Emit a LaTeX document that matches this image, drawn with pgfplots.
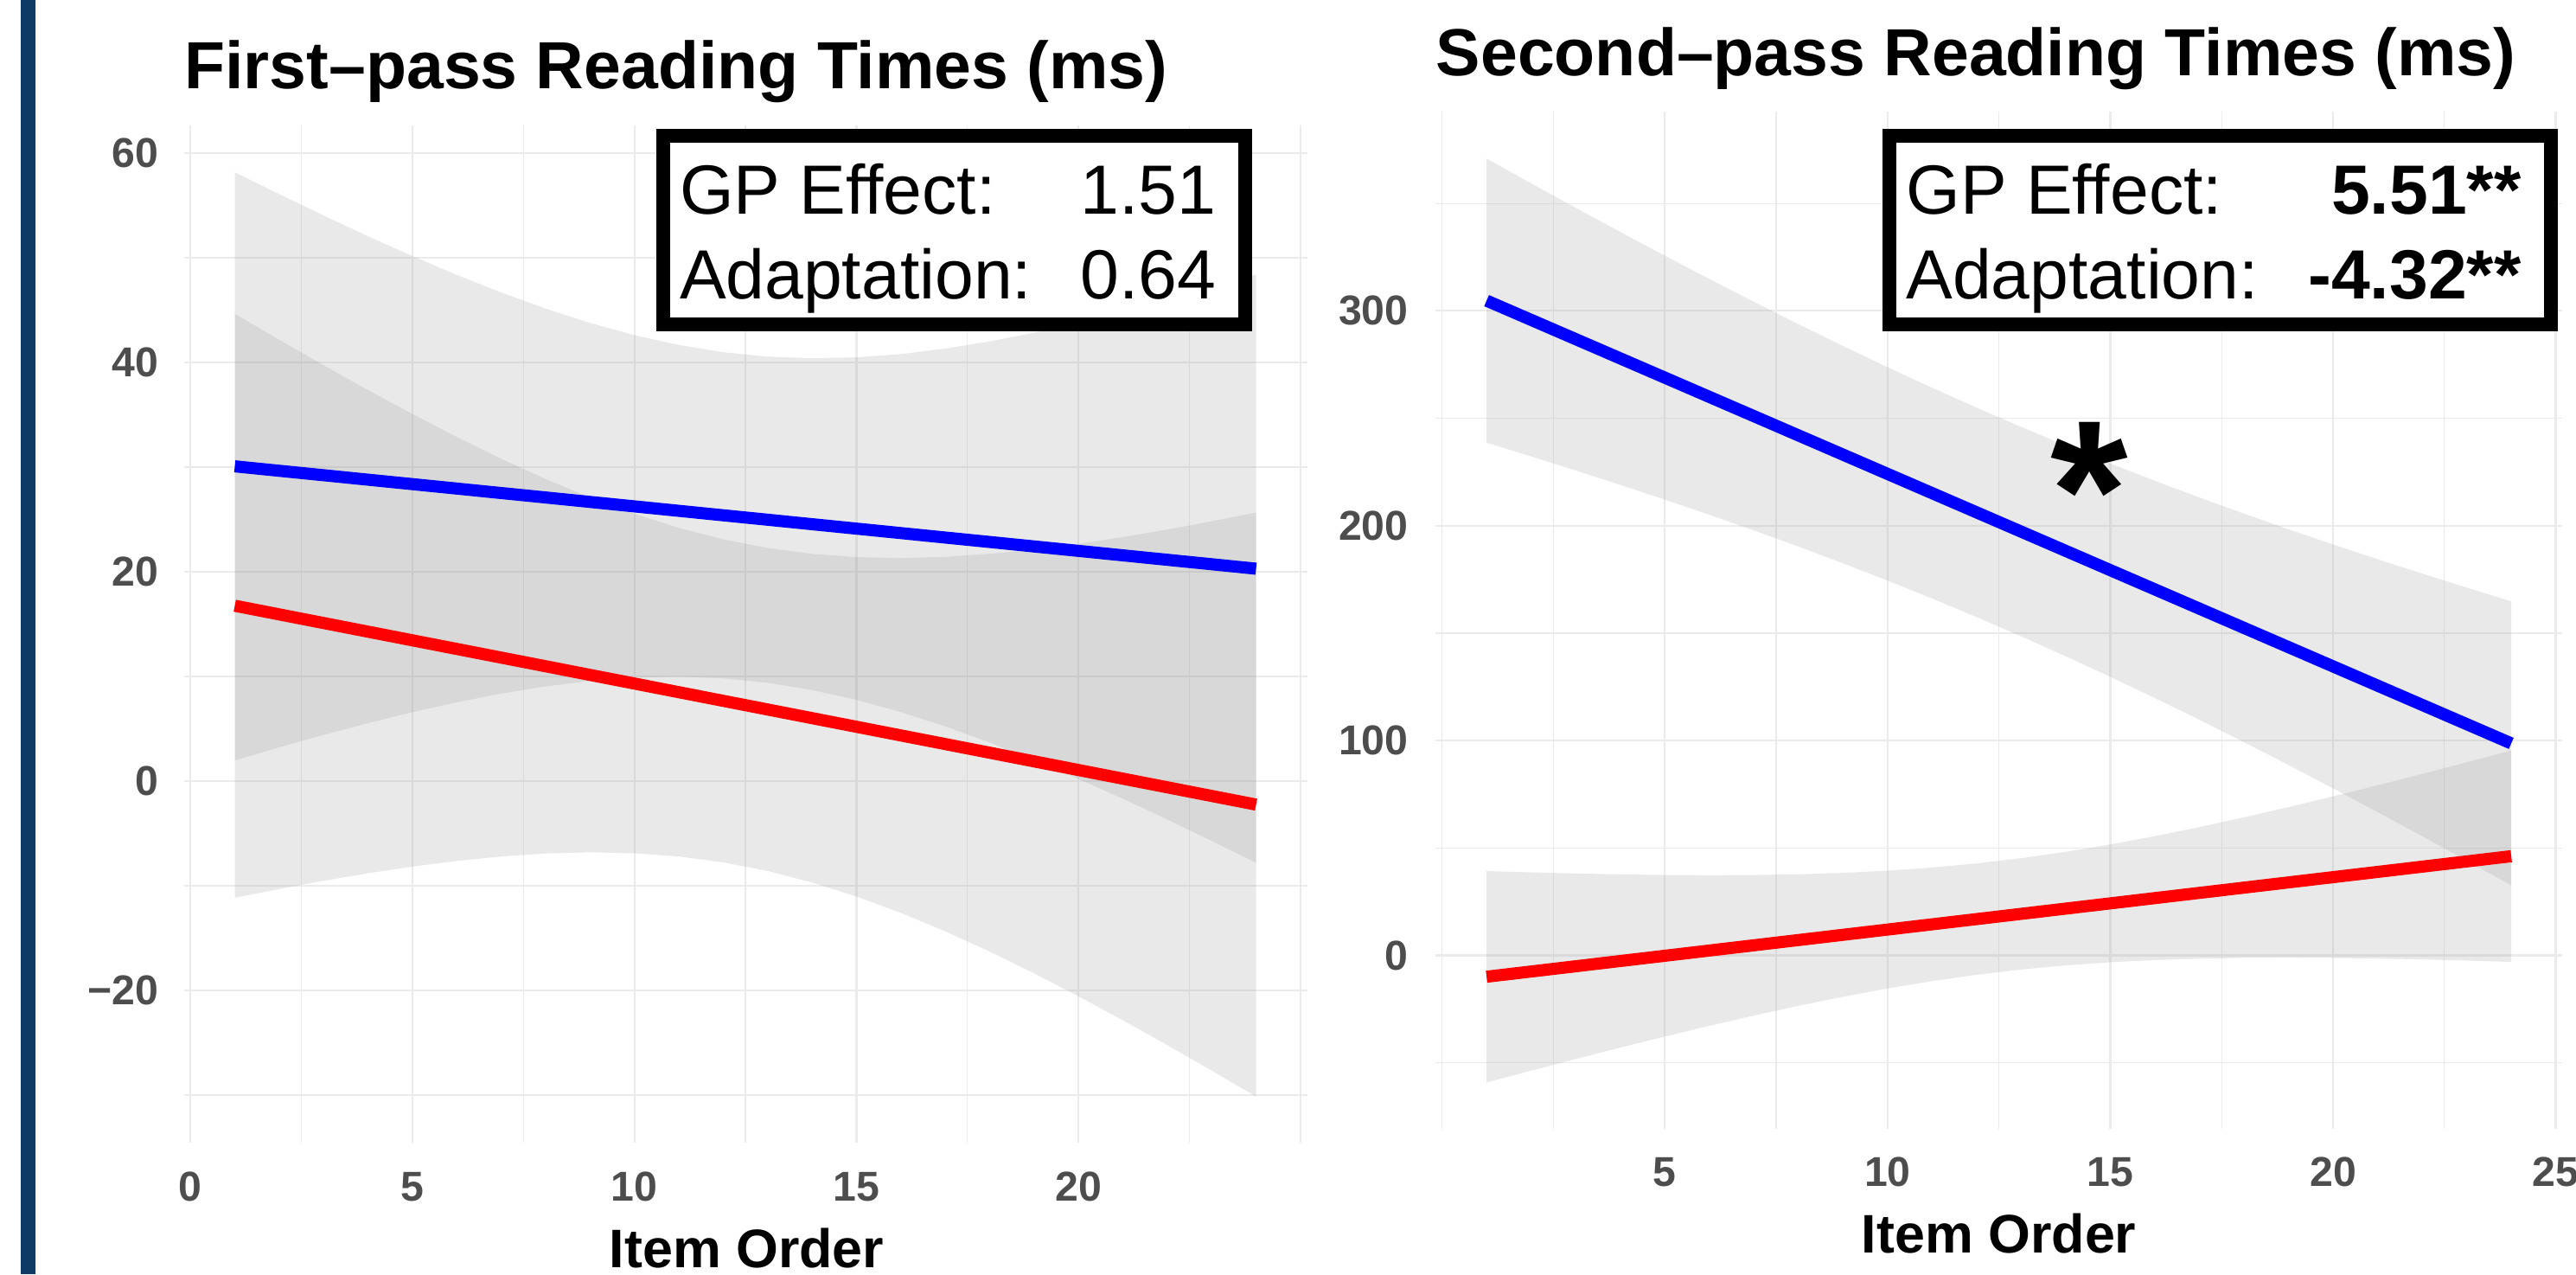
\documentclass[border=0pt]{standalone}
\usepackage{fontspec}
\setmainfont{Liberation Sans}
\usepackage{pgfplots}
\pgfplotsset{compat=1.18}
\definecolor{gridc}{RGB}{235,235,235}
\definecolor{tickc}{RGB}{77,77,77}
\definecolor{ribbon}{RGB}{140,140,140}
\definecolor{navy}{RGB}{13,59,102}
\definecolor{lblue}{RGB}{0,0,255}
\definecolor{lred}{RGB}{255,0,0}
\pgfplotsset{
  ggstyle/.style={
    scale only axis,
    anchor=south west,
    axis line style={draw=none},
    major tick length=0pt, minor tick length=0pt,
    grid=both,
    major grid style={gridc, line width=0.45pt},
    minor grid style={gridc, line width=0.25pt},
    ticklabel style={font=\fontsize{9.64}{11}\selectfont\bfseries, text=tickc, inner sep=0pt},
    xmin=-0.15, xmax=25.15,
  },
  rib/.style={fill=ribbon, fill opacity=0.19, draw=none},
}
\newcommand{\legfont}{\fontsize{16.1}{19}\selectfont}
\begin{document}
\begin{tikzpicture}
\fill[navy] (4.8pt,0) rectangle (8.2pt,294.6pt);

% ---------- left panel: First-pass ----------
\begin{axis}[ggstyle, at={(42.5pt,30.5pt)}, width=259.82pt, height=235.1pt,
  ymin=-34.5, ymax=62.65,
  xtick={0,5,10,15,20}, xticklabels={0,5,10,15,20},
  minor xtick={2.5,7.5,12.5,17.5,22.5,25},
  ytick={-20,0,20,40,60}, yticklabels={−20,0,20,40,60},
  minor ytick={-30,-10,10,30,50},
  xticklabel style={yshift=-6.7pt}, yticklabel style={xshift=-5.7pt}]
% blue ribbon: upper bound, then lower bound reversed
\addplot[rib] coordinates {
  (1,58.18) (2,56.09) (3,54.04) (4,52.06) (5,50.17) (6,48.37) (7,46.69) (8,45.15) (9,43.78) (10,42.61) (11,41.68) (12,40.98)
  (13,40.56) (14,40.40) (15,40.49) (16,40.80) (17,41.33) (18,42.01) (19,42.85) (20,43.79) (21,44.84) (22,45.96) (23,47.16) (24,48.40)
  (24,-7.80) (23,-5.71) (22,-3.66) (21,-1.68) (20,0.21) (19,2.01) (18,3.69) (17,5.23) (16,6.60) (15,7.77) (14,8.70) (13,9.40)
  (12,9.82) (11,9.98) (10,9.89) (9,9.58) (8,9.05) (7,8.37) (6,7.53) (5,6.59) (4,5.54) (3,4.42) (2,3.23) (1,1.98)} -- cycle;
% red ribbon
\addplot[rib] coordinates {
  (1,44.66) (2,42.17) (3,39.74) (4,37.36) (5,35.08) (6,32.88) (7,30.80) (8,28.87) (9,27.10) (10,25.54) (11,24.20) (12,23.10)
  (13,22.28) (14,21.72) (15,21.41) (16,21.32) (17,21.43) (18,21.72) (19,22.14) (20,22.68) (21,23.32) (22,24.04) (23,24.83) (24,25.66)
  (24,-30.14) (23,-27.65) (22,-25.22) (21,-22.84) (20,-20.56) (19,-18.36) (18,-16.28) (17,-14.35) (16,-12.58) (15,-11.02) (14,-9.68) (13,-8.58)
  (12,-7.76) (11,-7.20) (10,-6.89) (9,-6.80) (8,-6.91) (7,-7.20) (6,-7.62) (5,-8.16) (4,-8.80) (3,-9.52) (2,-10.31) (1,-11.14)} -- cycle;
\addplot[lblue, line width=2.8pt] coordinates {(1,30.08) (24,20.3)};
\addplot[lred, line width=2.8pt] coordinates {(1,16.76) (24,-2.24)};
\end{axis}

% ---------- right panel: Second-pass ----------
\begin{axis}[ggstyle, at={(331.98pt,33.64pt)}, width=260.68pt, height=235.14pt,
  ymin=-80.6, ymax=392.7,
  xtick={5,10,15,20,25}, xticklabels={5,10,15,20,25},
  minor xtick={0,2.5,7.5,12.5,17.5,22.5},
  ytick={0,100,200,300}, yticklabels={0,100,200,300},
  minor ytick={-50,50,150,250,350},
  xticklabel style={yshift=-6.44pt}, yticklabel style={xshift=-6.1pt}]
\addplot[rib] coordinates {
  (1,370.85) (2,359.32) (3,347.94) (4,336.71) (5,325.67) (6,314.81) (7,304.18) (8,293.78) (9,283.63) (10,273.77) (11,264.20) (12,254.93)
  (13,245.98) (14,237.33) (15,228.98) (16,220.92) (17,213.15) (18,205.63) (19,198.34) (20,191.28) (21,184.42) (22,177.73) (23,171.19) (24,164.80)
  (24,32.60) (23,44.13) (22,55.51) (21,66.74) (20,77.78) (19,88.64) (18,99.27) (17,109.67) (16,119.82) (15,129.68) (14,139.25) (13,148.52)
  (12,157.47) (11,166.12) (10,174.47) (9,182.53) (8,190.30) (7,197.82) (6,205.11) (5,212.17) (4,219.03) (3,225.72) (2,232.26) (1,238.65)} -- cycle;
\addplot[rib] coordinates {
  (1,39.30) (2,38.68) (3,38.15) (4,37.74) (5,37.46) (6,37.34) (7,37.44) (8,37.77) (9,38.43) (10,39.45) (11,40.91) (12,42.84)
  (13,45.28) (14,48.23) (15,51.65) (16,55.51) (17,59.73) (18,64.27) (19,69.04) (20,74.04) (21,79.20) (22,84.49) (23,89.90) (24,95.40)
  (24,-3.00) (23,-2.38) (22,-1.85) (21,-1.44) (20,-1.16) (19,-1.04) (18,-1.14) (17,-1.47) (16,-2.13) (15,-3.15) (14,-4.61) (13,-6.54)
  (12,-8.98) (11,-11.93) (10,-15.35) (9,-19.21) (8,-23.43) (7,-27.97) (6,-32.74) (5,-37.74) (4,-42.90) (3,-48.19) (2,-53.60) (1,-59.10)} -- cycle;
\addplot[lblue, line width=2.8pt] coordinates {(1,304.75) (24,98.7)};
\addplot[lred, line width=2.8pt] coordinates {(1,-9.9) (24,46.2)};
\end{axis}

% titles
\node[anchor=base west, inner sep=0pt, font=\fontsize{15.4}{18}\selectfont\bfseries] at (42.5pt,274.02pt) {First–pass Reading Times (ms)};
\node[anchor=base west, inner sep=0pt, font=\fontsize{15.4}{18}\selectfont\bfseries] at (331.98pt,277.1pt) {Second–pass Reading Times (ms)};
% axis titles
\node[anchor=base, inner sep=0pt, font=\fontsize{12.56}{14}\selectfont\bfseries] at (172.7pt,1.5pt) {Item Order};
\node[anchor=base, inner sep=0pt, font=\fontsize{12.56}{14}\selectfont\bfseries] at (462.32pt,4.9pt) {Item Order};

% asterisk
\node[anchor=base, inner sep=0pt, font=\fontsize{46}{46}\selectfont\bfseries] at (483.3pt,165.3pt) {*};

% legend boxes
\draw[line width=3.2pt, fill=white, line join=miter] (153.3pt,219.52pt) rectangle (288.08pt,263.2pt);
\node[anchor=base west, inner sep=0pt, font=\legfont] at (157pt,245.04pt) {GP Effect:};
\node[anchor=base west, inner sep=0pt, font=\legfont] at (157pt,225.5pt) {Adaptation:};
\node[anchor=base west, inner sep=0pt, font=\legfont] at (249.7pt,245.04pt) {1.51};
\node[anchor=base west, inner sep=0pt, font=\legfont] at (249.7pt,225.5pt) {0.64};

\draw[line width=3.2pt, fill=white, line join=miter] (436.96pt,219.52pt) rectangle (589.98pt,263.2pt);
\node[anchor=base west, inner sep=0pt, font=\legfont] at (440.7pt,245.04pt) {GP Effect:};
\node[anchor=base west, inner sep=0pt, font=\legfont] at (440.7pt,225.5pt) {Adaptation:};
\node[anchor=base east, inner sep=0pt, font=\legfont\bfseries] at (583.3pt,245.04pt) {5.51**};
\node[anchor=base east, inner sep=0pt, font=\legfont\bfseries] at (583.3pt,225.5pt) {-4.32**};

\pgfresetboundingbox
\path[use as bounding box] (0,0) rectangle (595.8pt,294.6pt);
\end{tikzpicture}
\end{document}
